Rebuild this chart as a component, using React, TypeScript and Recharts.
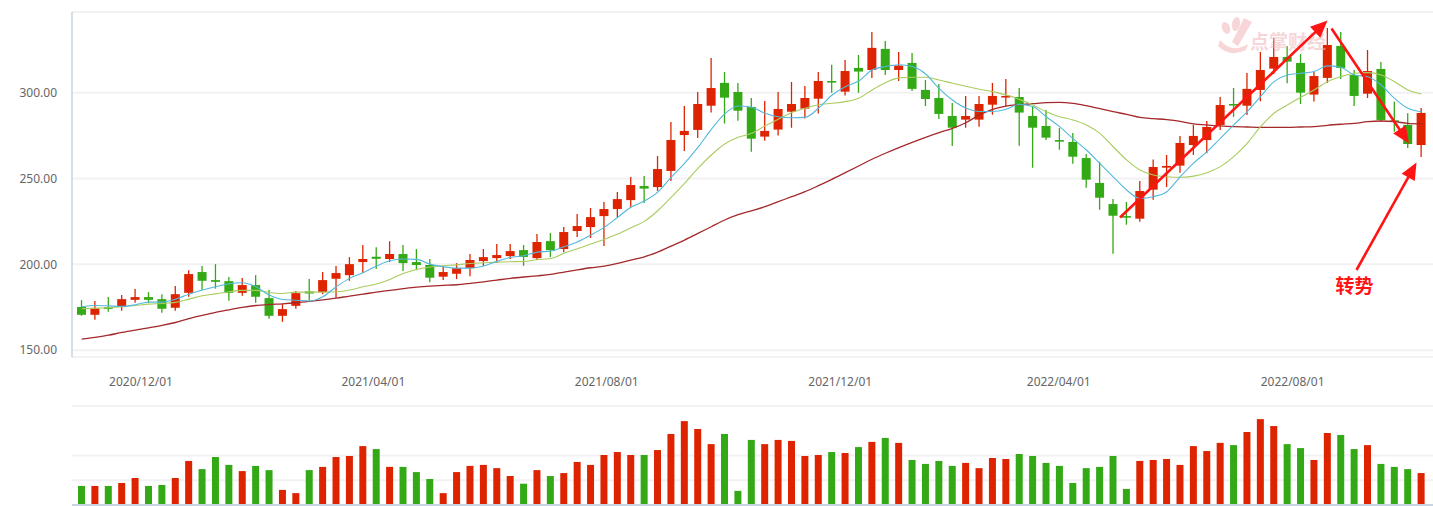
import { ComposedChart, Bar, Line, XAxis, YAxis, CartesianGrid, Cell } from "recharts";

// weekly K-line
const opens = [
  175.1, 170.6, 175.0, 175.1, 179.3, 180.9, 179.7, 174.7, 183.4, 195.5,
  190.8, 190.2, 183.4, 187.9, 180.3, 170.0, 175.8, 184.2, 183.8, 191.6,
  193.7, 201.3, 204.4, 203.1, 206.0, 201.3, 199.6, 192.8, 194.5, 197.8,
  201.9, 203.6, 204.8, 208.3, 203.6, 213.5, 208.9, 219.4, 221.7, 228.1,
  232.2, 237.4, 245.6, 245.0, 254.4, 275.3, 278.3, 292.4, 305.7, 300.4,
  291.7, 274.4, 278.5, 288.9, 290.7, 296.5, 306.8, 300.6, 314.4, 313.2,
  325.5, 313.2, 317.3, 301.6, 296.9, 286.4, 284.3, 284.3, 293.0, 297.5,
  297.5, 286.4, 280.6, 272.4, 271.3, 261.9, 247.4, 235.1, 228.1, 226.6,
  243.5, 256.3, 257.5, 269.5, 272.4, 281.2, 293.4, 292.4, 301.6, 314.0,
  320.8, 317.3, 298.9, 308.6, 327.2, 310.3, 299.4, 313.8, 283.9, 281.2,
  269.5,
];
const highs = [
  179.1, 178.6, 180.9, 182.1, 185.6, 183.8, 182.6, 187.3, 196.6, 199.0,
  200.1, 192.6, 192.0, 193.7, 185.0, 176.8, 184.4, 191.5, 195.5, 199.0,
  204.2, 211.2, 210.0, 213.5, 211.2, 208.9, 203.1, 199.0, 200.7, 206.0,
  208.9, 211.8, 211.8, 211.2, 217.6, 218.2, 221.7, 229.3, 232.8, 236.3,
  242.1, 250.9, 251.4, 263.1, 282.9, 292.2, 300.4, 320.2, 312.1, 305.7,
  296.9, 295.2, 300.4, 306.2, 303.9, 312.1, 316.2, 319.1, 322.0, 335.4,
  330.1, 323.7, 323.1, 307.4, 305.1, 294.0, 298.1, 298.1, 305.7, 308.0,
  302.7, 291.9, 289.9, 279.4, 276.5, 264.3, 259.8, 238.0, 236.3, 248.5,
  261.0, 263.7, 274.8, 281.2, 283.5, 297.5, 302.7, 311.5, 323.7, 331.9,
  327.2, 322.6, 312.1, 337.7, 335.4, 313.2, 324.9, 317.9, 294.8, 288.0,
  291.1,
];
const lows = [
  170.0, 167.7, 172.3, 172.9, 177.6, 177.6, 171.8, 172.9, 181.1, 185.0,
  185.8, 178.8, 181.7, 177.6, 168.3, 166.5, 174.1, 179.0, 182.6, 180.5,
  190.4, 194.9, 197.2, 201.3, 196.1, 196.6, 189.6, 190.8, 191.4, 193.1,
  199.0, 200.7, 203.1, 199.1, 202.5, 204.2, 207.1, 215.9, 215.3, 210.6,
  227.5, 233.4, 235.7, 242.7, 248.5, 266.0, 273.6, 288.4, 282.0, 283.7,
  265.6, 272.0, 275.0, 279.6, 284.9, 287.8, 300.0, 298.3, 300.0, 308.6,
  310.3, 306.8, 301.0, 292.2, 284.7, 268.9, 279.6, 280.2, 287.2, 292.0,
  269.1, 256.3, 272.4, 266.8, 258.6, 244.6, 231.8, 206.2, 223.1, 224.8,
  237.6, 245.0, 253.4, 263.7, 264.7, 278.3, 285.8, 287.0, 295.0, 310.9,
  305.5, 293.4, 294.8, 305.7, 308.0, 292.2, 296.9, 282.9, 277.3, 267.8,
  262.5,
];
const closes = [
  170.6, 174.3, 174.4, 179.7, 180.9, 179.3, 174.1, 182.6, 194.3, 190.4,
  189.8, 183.4, 187.9, 181.1, 170.0, 173.9, 183.2, 183.0, 190.8, 194.9,
  200.1, 203.1, 203.2, 206.0, 200.7, 199.6, 192.2, 195.5, 197.8, 202.5,
  204.2, 205.4, 207.7, 204.3, 213.0, 208.3, 218.8, 222.3, 227.5, 232.2,
  238.0, 246.2, 244.1, 255.5, 272.4, 277.7, 293.4, 302.7, 297.1, 289.5,
  273.2, 277.7, 290.5, 293.4, 296.9, 306.8, 306.4, 312.6, 312.3, 326.1,
  313.2, 315.8, 302.2, 296.3, 287.6, 279.6, 286.4, 293.4, 298.1, 298.1,
  288.4, 279.6, 273.8, 271.6, 262.7, 249.3, 238.8, 228.3, 227.5, 242.7,
  256.7, 257.3, 270.7, 274.8, 280.0, 292.8, 292.8, 302.2, 313.2, 320.8,
  318.1, 300.0, 309.7, 327.8, 314.4, 298.1, 312.6, 284.1, 283.0, 270.1,
  288.2,
];
const volumes = [
  0.77, 0.77, 0.77, 0.89, 1.09, 0.77, 0.81, 1.09, 1.78, 1.45,
  1.94, 1.62, 1.37, 1.58, 1.41, 0.61, 0.48, 1.41, 1.54, 1.94,
  1.98, 2.38, 2.26, 1.54, 1.54, 1.33, 1.05, 0.48, 1.33, 1.58,
  1.62, 1.49, 1.17, 0.86, 1.41, 1.17, 1.29, 1.74, 1.62, 2.02,
  2.14, 2.02, 2.02, 2.22, 2.87, 3.39, 3.07, 2.46, 2.87, 0.57,
  2.63, 2.46, 2.63, 2.59, 1.98, 2.02, 2.14, 2.10, 2.34, 2.55,
  2.71, 2.51, 1.82, 1.66, 1.78, 1.58, 1.70, 1.49, 1.90, 1.86,
  2.06, 1.98, 1.70, 1.58, 0.89, 1.49, 1.54, 1.98, 0.65, 1.78,
  1.82, 1.86, 1.62, 2.38, 2.18, 2.51, 2.42, 2.95, 3.47, 3.19,
  2.46, 2.30, 1.82, 2.91, 2.83, 2.26, 2.42, 1.66, 1.54, 1.45,
  1.29,
];
const ma5 = [
  175.3, 176.0, 175.8, 175.5, 176.4, 178.0, 178.0, 179.7, 182.6, 185.0,
  186.9, 188.7, 189.3, 186.9, 182.1, 179.5, 179.1, 178.6, 181.1, 186.9,
  191.8, 195.1, 199.0, 202.1, 203.1, 202.9, 200.1, 198.6, 197.8, 197.8,
  199.0, 201.7, 204.0, 205.0, 207.1, 207.7, 210.2, 213.0, 217.0, 221.5,
  227.3, 233.2, 236.9, 242.1, 250.7, 258.8, 268.1, 278.6, 287.6, 292.2,
  291.5, 288.0, 286.0, 285.4, 285.6, 290.9, 298.5, 303.5, 306.8, 313.2,
  315.2, 316.3, 315.2, 310.9, 302.5, 295.7, 291.0, 289.0, 289.0, 290.3,
  293.2, 291.9, 286.0, 280.2, 273.2, 266.6, 258.8, 251.0, 243.3, 238.4,
  239.4, 242.3, 251.0, 259.0, 265.6, 273.4, 281.2, 288.9, 297.7, 306.4,
  310.3, 311.3, 312.3, 315.6, 314.8, 310.3, 309.3, 304.5, 296.7, 290.9,
  288.9,
];
const ma10 = [
  174.1, 174.5, 174.7, 175.3, 176.0, 176.8, 177.2, 177.8, 179.7, 181.7,
  182.8, 184.0, 184.8, 184.8, 183.6, 183.0, 183.8, 183.8, 183.8, 184.0,
  185.0, 186.9, 188.5, 191.2, 194.7, 197.0, 198.4, 199.2, 199.7, 200.5,
  200.9, 201.3, 201.5, 201.6, 202.7, 203.4, 206.4, 209.1, 211.8, 214.5,
  217.6, 221.3, 225.0, 231.2, 239.0, 247.2, 255.9, 263.7, 270.1, 274.0,
  276.3, 280.6, 284.5, 288.4, 290.9, 293.0, 293.8, 294.8, 296.7, 301.6,
  305.8, 308.6, 309.0, 309.0, 307.4, 305.5, 303.7, 302.0, 300.6, 298.7,
  296.1, 292.8, 288.9, 286.0, 284.1, 281.2, 276.3, 268.5, 260.8, 254.9,
  252.0, 251.0, 250.7, 251.4, 253.4, 256.9, 262.7, 270.5, 280.2, 288.0,
  292.8, 297.3, 301.6, 306.4, 309.3, 311.3, 311.7, 310.3, 306.4, 301.6,
  299.2,
];
const ma60 = [
  156.4, 157.4, 158.7, 160.3, 161.7, 163.0, 164.4, 166.1, 168.3, 170.2,
  172.0, 173.5, 174.9, 176.0, 176.6, 177.0, 177.6, 178.4, 179.3, 180.3,
  181.5, 182.6, 183.8, 184.8, 185.8, 186.7, 187.3, 187.7, 188.1, 188.9,
  189.8, 190.8, 191.8, 192.6, 193.3, 194.1, 195.5, 196.8, 198.0, 199.0,
  200.5, 202.5, 204.4, 207.1, 210.6, 214.1, 218.0, 221.9, 225.8, 228.9,
  231.2, 233.6, 236.5, 239.4, 242.3, 245.8, 249.5, 253.4, 257.3, 261.2,
  264.7, 268.0, 271.1, 274.0, 276.7, 279.2, 282.5, 287.0, 290.3, 292.2,
  293.0, 293.6, 294.2, 294.4, 293.8, 292.4, 290.7, 288.9, 287.4, 285.6,
  284.9, 284.3, 283.3, 281.8, 281.2, 280.6, 280.2, 280.0, 279.8, 279.8,
  279.8, 280.0, 280.2, 281.0, 281.6, 282.1, 283.1, 283.5, 283.1, 282.1,
  281.8,
];

// date labels sit between weekly bars, so they are given as fractional bar positions
const dateTickPos = [4.43, 21.77, 39.19, 56.62, 72.93, 90.39];
const dateTickLabels = ["2020/12/01", "2021/04/01", "2021/08/01", "2021/12/01", "2022/04/01", "2022/08/01"];
const priceTicks = [150, 200, 250, 300];
const volTicks = [0, 1, 2, 3, 4];

const UP = "#de2300";
const DOWN = "#34a916";
const GRID = "#f2f2f5";
const AXIS = "#c9d4e2";
const ARROW = "#ff1414";

const rows = opens.map((open, i) => ({
  i,
  open,
  high: highs[i],
  low: lows[i],
  close: closes[i],
  vol: volumes[i],
  ma5: ma5[i],
  ma10: ma10[i],
  ma60: ma60[i],
}));

function Candle(props: any) {
  const { x, y, width, height, payload } = props;
  if (!payload || height == null) return null;
  const { open, close, high, low } = payload;
  const k = height / (high - low || 1);
  const top = y + (high - Math.max(open, close)) * k;
  const bot = y + (high - Math.min(open, close)) * k;
  const color = close >= open ? UP : DOWN;
  const cx = x + width / 2;
  return (
    <g>
      <line x1={cx} x2={cx} y1={y} y2={y + height} stroke={color} strokeWidth={1.3} />
      <rect x={x} y={top} width={width} height={Math.max(bot - top, 1.6)} fill={color} />
    </g>
  );
}

function Arrow({ x1, y1, x2, y2 }: { x1: number; y1: number; x2: number; y2: number }) {
  const dx = x2 - x1;
  const dy = y2 - y1;
  const len = Math.hypot(dx, dy);
  const ux = dx / len;
  const uy = dy / len;
  const hl = 17;
  const hw = 7.5;
  const bx = x2 - ux * hl;
  const by = y2 - uy * hl;
  return (
    <g>
      <line x1={x1} y1={y1} x2={bx + ux * 2} y2={by + uy * 2} stroke={ARROW} strokeWidth={2.6} />
      <polygon
        points={`${x2},${y2} ${bx - uy * hw},${by + ux * hw} ${bx + uy * hw},${by - ux * hw}`}
        fill={ARROW}
      />
    </g>
  );
}

export default function App() {
  return (
    <div
      style={{
        position: "absolute",
        left: 0,
        top: 0,
        width: 1433,
        height: 506,
        background: "#fff",
        fontFamily: '"Noto Sans", sans-serif',
      }}
    >
      <div style={{ position: "absolute", left: 0, top: 0 }}>
        <ComposedChart width={1433} height={400} data={rows} margin={{ top: 12, right: 0, bottom: 0, left: 0 }}>
          <CartesianGrid vertical={false} stroke={GRID} strokeWidth={2} />
          <XAxis xAxisId="c" dataKey="i" type="category" hide height={0} padding={{ left: 3, right: 5 }} />
          <XAxis
            xAxisId="d"
            dataKey="i"
            type="number"
            domain={[-0.724, 100.87]}
            allowDataOverflow
            ticks={dateTickPos}
            interval={0}
            tickFormatter={(v: number) => dateTickLabels[dateTickPos.indexOf(v)]}
            height={43}
            axisLine={false}
            tickLine={false}
            tickMargin={14}
            tick={{ fill: "#666", fontSize: 12 }}
          />
          <YAxis
            domain={[146, 347]}
            ticks={priceTicks}
            allowDataOverflow
            width={72}
            tickFormatter={(v: number) => v.toFixed(2)}
            axisLine={{ stroke: AXIS, strokeWidth: 1.5 }}
            tickLine={false}
            tickMargin={9}
            tick={{ fill: "#666", fontSize: 12 }}
          />
          <Bar
            xAxisId="c"
            dataKey={(d: any) => [d.low, d.high]}
            barSize={9}
            shape={(p: any) => <Candle {...p} />}
            isAnimationActive={false}
          />
          <Line xAxisId="c" type="monotone" dataKey="ma60" stroke="#a3292b" strokeWidth={1.3} dot={false} isAnimationActive={false} />
          <Line xAxisId="c" type="monotone" dataKey="ma10" stroke="#a9cc5e" strokeWidth={1.1} dot={false} isAnimationActive={false} />
          <Line xAxisId="c" type="monotone" dataKey="ma5" stroke="#52b8dc" strokeWidth={1.1} dot={false} isAnimationActive={false} />
        </ComposedChart>
      </div>

      <div style={{ position: "absolute", left: 0, top: 400 }}>
        <ComposedChart width={1433} height={106} data={rows} margin={{ top: 6, right: 0, bottom: 0, left: 72 }}>
          <CartesianGrid vertical={false} stroke={GRID} strokeWidth={2} />
          <XAxis
            dataKey="i"
            type="category"
            padding={{ left: 3, right: 5 }}
            height={1}
            tick={false}
            tickLine={false}
            axisLine={{ stroke: AXIS, strokeWidth: 2 }}
          />
          <YAxis hide domain={[0, 4]} ticks={volTicks} />
          <Bar dataKey="vol" barSize={7} isAnimationActive={false}>
            {rows.map((r) => (
              <Cell key={r.i} fill={r.close >= r.open ? UP : DOWN} />
            ))}
          </Bar>
        </ComposedChart>
      </div>

      <svg
        width={1433}
        height={506}
        style={{ position: "absolute", left: 0, top: 0, pointerEvents: "none" }}
      >
        <g opacity={0.22} fill="#e0474c">
          <ellipse cx={1226} cy={28} rx={4} ry={6} transform="rotate(-20 1226 28)" />
          <ellipse cx={1236} cy={24} rx={4} ry={7} transform="rotate(10 1236 24)" />
          <path d="M1244 18 L1252 22 L1238 46 L1232 42 Z" />
          <path d="M1220 40 Q1232 54 1248 44 L1246 50 Q1230 58 1218 46 Z" />
        </g>
        <text
          x={1250}
          y={49}
          fontSize={19}
          fontWeight="bold"
          fill="#f0b8bb"
          opacity={0.55}
          fontFamily='"Noto Sans CJK SC", sans-serif'
        >
          点掌财经
        </text>
        <Arrow x1={1120} y1={217.5} x2={1327.5} y2={20.5} />
        <Arrow x1={1331.5} y1={28.5} x2={1409} y2={143.5} />
        <Arrow x1={1356.5} y1={270} x2={1416.5} y2={162.5} />
        <text
          x={1354.5}
          y={293}
          textAnchor="middle"
          fontSize={19}
          fontWeight="bold"
          fill={ARROW}
          fontFamily='"Noto Sans CJK SC", sans-serif'
        >
          转势
        </text>
      </svg>
    </div>
  );
}
